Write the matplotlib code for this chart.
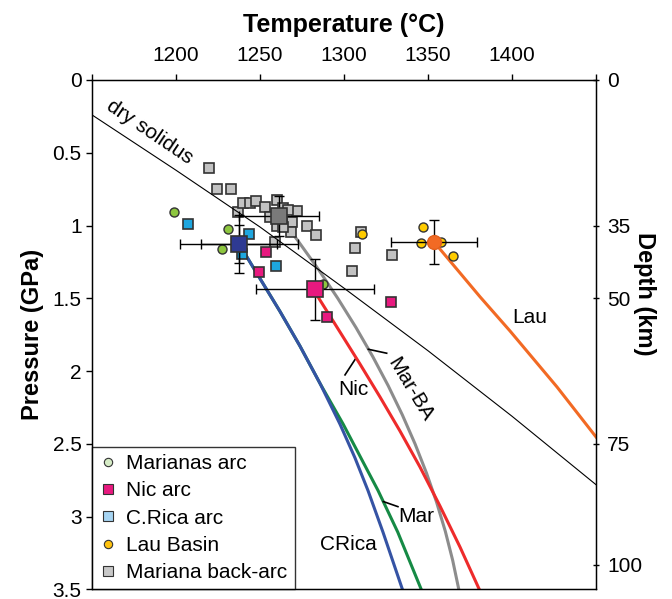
import matplotlib
matplotlib.use('Agg')
import matplotlib.pyplot as plt
from matplotlib.lines import Line2D

plt.rcParams['font.family'] = ['Liberation Sans', 'DejaVu Sans']

# axis ticks
temp_ticks = [1150, 1200, 1250, 1300, 1350, 1400, 1450]
temp_labels = ['', '1200', '1250', '1300', '1350', '1400', '']
pres_ticks = [0, 0.5, 1, 1.5, 2, 2.5, 3, 3.5]
pres_labels = ['0', '0.5', '1', '1.5', '2', '2.5', '3', '3.5']
depth_pos = [0, 1.0, 1.5, 2.5, 3.33]
depth_labels = ['0', '35', '50', '75', '100']

# dry solidus
sol_T = [1150, 1200, 1250, 1300, 1350, 1400, 1450]
sol_P = [0.24, 0.62, 1.01, 1.43, 1.86, 2.31, 2.78]

# melting paths
crica_T = [1237.5, 1244.0, 1250.0, 1261.9, 1273.8, 1285.7, 1297.6, 1306.5, 1314.3, 1323.2, 1334.8]
crica_P = [1.126, 1.250, 1.364, 1.590, 1.828, 2.084, 2.364, 2.595, 2.821, 3.106, 3.500]
mar_T = [1237.5, 1244.0, 1250.0, 1261.9, 1273.8, 1285.7, 1299.5, 1310.0, 1320.3, 1332.0, 1346.0]
mar_P = [1.126, 1.250, 1.364, 1.590, 1.828, 2.084, 2.364, 2.595, 2.821, 3.106, 3.500]
nic_T = [1282.7, 1284.5, 1297.6, 1309.5, 1321.4, 1333.3, 1345.2, 1357.1, 1369.0, 1380.4]
nic_P = [1.437, 1.490, 1.731, 1.951, 2.177, 2.411, 2.658, 2.926, 3.207, 3.496]
marba_T = [1261.3, 1272.3, 1284.7, 1296.3, 1307.1, 1317.1, 1326.3, 1334.7, 1342.3,
           1349.1, 1355.1, 1360.3, 1364.7, 1368.4]
marba_P = [0.934, 1.1, 1.3, 1.5, 1.7, 1.9, 2.1, 2.3, 2.5, 2.7, 2.9, 3.1, 3.3, 3.503]
lau_T = [1353.6, 1381.0, 1398.8, 1426.8, 1450.0]
lau_P = [1.113, 1.490, 1.724, 2.109, 2.452]

# samples
marianas_T = [1198.8, 1230.8, 1227.4, 1287.3]
marianas_P = [0.909, 1.021, 1.163, 1.401]
nic_sT = [1253.6, 1249.4, 1289.7, 1328.0]
nic_sP = [1.179, 1.321, 1.626, 1.523]
crica_sT = [1207.3, 1243.5, 1239.1, 1259.5]
crica_sP = [0.991, 1.060, 1.195, 1.277]
laub_T = [1347.2, 1345.7, 1357.6, 1364.7, 1310.5]
laub_P = [1.012, 1.122, 1.111, 1.209, 1.058]
backarc_T = [1219.8, 1224.2, 1232.6, 1237.1, 1240.1, 1244.0, 1247.6, 1253.0, 1259.9,
             1256.0, 1263.9, 1268.9, 1272.2, 1259.9, 1277.8, 1268.5, 1283.3, 1258.9,
             1306.5, 1328.4, 1304.6, 1309.9, 1266.9, 1263.9]
backarc_P = [0.602, 0.749, 0.749, 0.909, 0.847, 0.847, 0.829, 0.870, 0.824,
             0.939, 0.881, 0.973, 0.900, 1.001, 1.003, 1.046, 1.065, 1.115,
             1.156, 1.202, 1.310, 1.042, 0.893, 1.008]

# averages with errors
crica_avg = (1237.5, 1.128)
crica_xerr, crica_yerr = 22.5, 0.13
mar_avg = (1237.5, 1.128)
mar_xerr, mar_yerr = 35, 0.2
nic_avg = (1282.7, 1.437)
nic_xerr, nic_yerr = 35, 0.21
marba_avg = (1261.3, 0.934)
marba_xerr, marba_yerr = 24, 0.14
lau_avg = (1353.6, 1.115)
lau_xerr, lau_yerr = 25.5, 0.15

fig = plt.figure(figsize=(6.72, 5.99), dpi=100)
ax = fig.add_axes([0.1369, 0.0159, 0.75, 0.8506])

ax.plot(mar_T, mar_P, color='#168A45', lw=2.2, zorder=2)
ax.plot(crica_T, crica_P, color='#3553A4', lw=2.2, zorder=2.1)
ax.plot(marba_T, marba_P, color='#8C8C8C', lw=2.2, zorder=2)
ax.plot(nic_T, nic_P, color='#EE2B2B', lw=2.2, zorder=2.1)
ax.plot(lau_T, lau_P, color='#F26A24', lw=2.2, zorder=2)
ax.plot(sol_T, sol_P, color='black', lw=0.8, zorder=4)

edge = '#333333'
ax.plot(backarc_T, backarc_P, 's', ms=7, mfc='#C2C2C2', mec=edge, mew=1.2, zorder=3)
ax.plot(marianas_T, marianas_P, 'o', ms=6.5, mfc='#8DC63F', mec=edge, mew=1.0, zorder=3)
ax.plot(crica_sT, crica_sP, 's', ms=7, mfc='#1EA6DF', mec=edge, mew=1.2, zorder=3)
ax.plot(nic_sT, nic_sP, 's', ms=7, mfc='#E8197F', mec=edge, mew=1.2, zorder=3)
ax.plot(laub_T, laub_P, 'o', ms=6.5, mfc='#FFCC00', mec=edge, mew=1.0, zorder=3)

eb = dict(fmt='none', ecolor='black', elinewidth=1.0, capsize=3.5, capthick=1.0, zorder=5)
ax.errorbar(*mar_avg, xerr=mar_xerr, yerr=mar_yerr, **eb)
ax.errorbar(*crica_avg, xerr=crica_xerr, yerr=crica_yerr, **eb)
ax.errorbar(*nic_avg, xerr=nic_xerr, yerr=nic_yerr, **eb)
ax.errorbar(*marba_avg, xerr=marba_xerr, yerr=marba_yerr, **eb)
ax.errorbar(*lau_avg, xerr=lau_xerr, yerr=lau_yerr, **eb)

ax.plot(*crica_avg, 's', ms=11, mfc='#2E3A92', mec=edge, mew=1.2, zorder=6)
ax.plot(*nic_avg, 's', ms=11, mfc='#E8197F', mec=edge, mew=1.2, zorder=6)
ax.plot(*marba_avg, 's', ms=11, mfc='#7A7A7A', mec=edge, mew=1.2, zorder=6)
ax.plot(*lau_avg, 'o', ms=10, mfc='#F26A24', mec='#E0601E', mew=1.0, zorder=6)

fs = 15
ax.text(1184.5, 0.357, 'dry solidus', fontsize=fs, rotation=-34, ha='center', va='center')
ax.text(1410.7, 1.635, 'Lau', fontsize=fs, ha='center', va='center')
ax.text(1305.4, 2.129, 'Nic', fontsize=fs, ha='center', va='center')
ax.plot([1300.6, 1307.1], [2.026, 1.911], color='black', lw=1.2)
ax.text(1339.3, 2.129, 'Mar-BA', fontsize=fs, rotation=-59, ha='center', va='center')
ax.plot([1314.5, 1325.4], [1.850, 1.877], color='black', lw=1.2)
ax.text(1343.3, 2.999, 'Mar', fontsize=fs, ha='center', va='center')
ax.plot([1323.4, 1332.1], [2.896, 2.931], color='black', lw=1.2)
ax.text(1302.6, 3.194, 'CRica', fontsize=fs, ha='center', va='center')

ax.set_xlim(1150, 1450)
ax.set_ylim(3.5, 0)
ax.xaxis.tick_top()
ax.xaxis.set_label_position('top')
ax.set_xticks(temp_ticks)
ax.set_xticklabels(temp_labels)
ax.set_yticks(pres_ticks)
ax.set_yticklabels(pres_labels)
ax.tick_params(axis='both', labelsize=fs, length=4, width=1, direction='out')
ax.tick_params(axis='x', pad=7)
ax.set_xlabel('Temperature (°C)', fontsize=18, fontweight='bold', labelpad=10)
ax.set_ylabel('Pressure (GPa)', fontsize=17, fontweight='bold', labelpad=6)
for s in ax.spines.values():
    s.set_linewidth(1.0)

ax2 = ax.twinx()
ax2.set_ylim(3.5, 0)
ax2.set_yticks(depth_pos)
ax2.set_yticklabels(depth_labels)
ax2.tick_params(axis='y', labelsize=fs, length=4, width=1, direction='inout', pad=6)
ax2.set_ylabel('Depth (km)', fontsize=17, fontweight='bold', rotation=-90)
ax2.yaxis.set_label_coords(1.12, 0.58)

handles = [
    Line2D([], [], ls='none', marker='o', ms=6, mfc='#D6ECC6', mec=edge, mew=0.8),
    Line2D([], [], ls='none', marker='s', ms=6.5, mfc='#E8197F', mec=edge, mew=0.8),
    Line2D([], [], ls='none', marker='s', ms=6.5, mfc='#A6D4F2', mec=edge, mew=0.8),
    Line2D([], [], ls='none', marker='o', ms=6, mfc='#FFC20E', mec=edge, mew=0.8),
    Line2D([], [], ls='none', marker='s', ms=6.5, mfc='#C8C8C8', mec=edge, mew=0.8),
]
names = ['Marianas arc', 'Nic arc', 'C.Rica arc', 'Lau Basin', 'Mariana back-arc']
leg = ax.legend(handles, names, loc='lower left', bbox_to_anchor=(0, 0), borderaxespad=0,
                fontsize=fs, frameon=True, fancybox=False, edgecolor='black',
                handlelength=0.8, handletextpad=0.5, labelspacing=0.4, borderpad=0.35)
leg.get_frame().set_linewidth(1.0)
leg.set_zorder(10)

fig.savefig('out.png', dpi=100)
